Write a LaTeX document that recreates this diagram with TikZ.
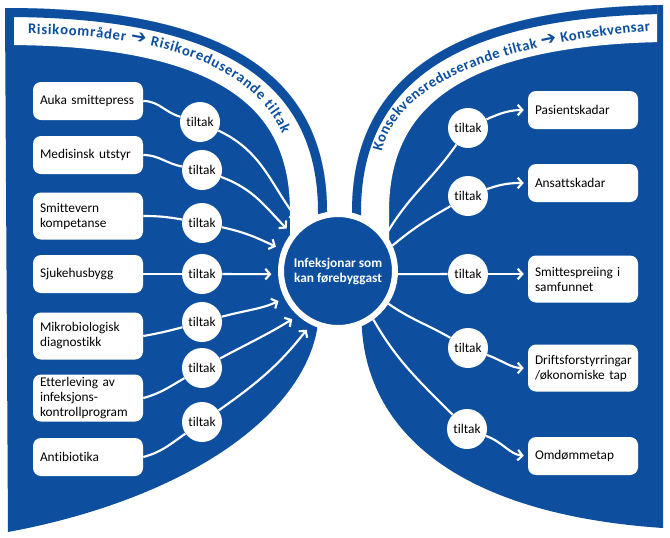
\documentclass[tikz,border=0pt]{standalone}
\usepackage{fontspec}
\setmainfont{Carlito}[Ligatures=NoCommon]
\newfontfamily\arrowfont{DejaVu Sans}
\usetikzlibrary{arrows.meta,decorations.text}
\definecolor{wingblue}{HTML}{0D4F9E}
\newcommand\headfont{\normalfont\bfseries\fontsize{11}{13}\selectfont\color{wingblue}}
\newcommand\arrowmark{\arrowfont\bfseries\fontsize{14}{14}\selectfont\color{wingblue}}
\newcommand\lwing{(5,8) .. controls (200,8) and (327,60) .. (327,212)}
\newcommand\rwing{(663,5) .. controls (480,8) and (352,60) .. (352,212)}

\begin{document}
\begin{tikzpicture}[x=0.75pt,y=-0.75pt,font=\fontsize{10}{11.25}\selectfont,
    item/.style={fill=white,rounded corners=6pt,minimum width=82.5pt,minimum height=28.5pt,
      text width=72pt,inner xsep=5.25pt,inner ysep=2pt,align=left},
    tall/.style={item,minimum height=35.25pt},
    tiltak/.style={circle,fill=white,minimum size=30pt,inner sep=0pt},
    flow/.style={white,line width=1.6pt},
    tip/.style={flow,-{Straight Barb[length=3.5pt,width=8pt]}}]
  \useasboundingbox (0,0) rectangle (670,537);
  \fill[wingblue] \lwing -- (317,330) .. controls (300,420) and (180,500) .. (8,532) -- cycle;
  \fill[wingblue] \rwing -- (362,330) .. controls (370,440) and (470,515) .. (663,528) -- cycle;
  \begin{scope}
    \clip \lwing -- (317,330) .. controls (300,420) and (180,500) .. (8,532) -- cycle;
    \clip (14,0) rectangle (340,300);
    \draw[white,line width=55.5pt] \lwing -- (327,260);
    \draw[wingblue,line width=13.5pt] \lwing -- (327,260);
  \end{scope}
  \begin{scope}
    \clip \rwing -- (362,330) .. controls (370,440) and (470,515) .. (663,528) -- cycle;
    \clip (330,0) rectangle (657,300);
    \draw[white,line width=55.5pt] \rwing -- (352,260);
    \draw[wingblue,line width=13.5pt] \rwing -- (352,260);
  \end{scope}
  \path[decorate,decoration={text along path,text align=fit to path,
    text={|\headfont|Risikoområder |\arrowmark|➔|\headfont| Risikoreduserande tiltak}}]
    (28,34) .. controls (150,34) and (252,62) .. (282,134);
  \path[decorate,decoration={text along path,text align=fit to path,
    text={|\headfont|Konsekvensreduserande tiltak |\arrowmark|➔|\headfont| Konsekvensar}}]
    (382,152) .. controls (395,90) and (485,45) .. (650,31);

  \node[circle,fill=wingblue,draw=white,line width=4.5pt,minimum size=85.5pt,text=white,
    font=\bfseries\fontsize{10}{11.25}\selectfont,align=center] (inf) at (338,271) {Infeksjonar som\\kan førebyggast};

  \node[item] (l1) at (88,101) {Auka smittepress};
  \node[item] (l2) at (88,155) {Medisinsk utstyr};
  \node[tall] (l3) at (88,216) {Smittevern\\kompetanse};
  \node[item] (l4) at (88,274) {Sjukehusbygg};
  \node[tall] (l5) at (88,336) {Mikrobiologisk\\diagnostikk};
  \node[tall] (l6) at (88,398) {Etterleving av\\infeksjons-\\kontrollprogram};
  \node[item] (l7) at (88,457) {Antibiotika};
  \node[tiltak] (tl1) at (200,122) {tiltak};
  \node[tiltak] (tl2) at (202,170) {tiltak};
  \node[tiltak] (tl3) at (202,223) {tiltak};
  \node[tiltak] (tl4) at (202,274) {tiltak};
  \node[tiltak] (tl5) at (202,322) {tiltak};
  \node[tiltak] (tl6) at (202,368) {tiltak};
  \node[tiltak] (tl7) at (202,422) {tiltak};

  \node[item] (r1) at (583,110) {Pasientskadar};
  \node[item] (r2) at (583,183) {Ansattskadar};
  \node[tall] (r3) at (583,279) {Smittespreiing i\\samfunnet};
  \node[tall] (r4) at (583,368) {Driftsforstyrringar\\/økonomiske tap};
  \node[item] (r5) at (583,456) {Omdømmetap};
  \node[tiltak] (tr1) at (468,128) {tiltak};
  \node[tiltak] (tr2) at (468,196) {tiltak};
  \node[tiltak] (tr3) at (468,274) {tiltak};
  \node[tiltak] (tr4) at (468,348) {tiltak};
  \node[tiltak] (tr5) at (467,429) {tiltak};

  \draw[flow] (l1.east) to[out=0,in=165] (tl1);
  \draw[flow] (l2.east) to[out=0,in=170] (tl2);
  \draw[flow] (l3.east) to[out=0,in=170] (tl3);
  \draw[flow] (l4.east) -- (tl4);
  \draw[flow] (l5.east) to[out=10,in=-165] (tl5);
  \draw[flow] (l6.east) to[out=15,in=-150] (tl6);
  \draw[flow] (l7.east) to[out=15,in=-145] (tl7);
  \draw[tip,shorten >=5pt] (tl1) to[out=-25,in=128] (inf.128);
  \draw[tip,shorten >=5pt] (tl2) to[out=-20,in=135] (inf.141);
  \draw[tip,shorten >=5pt] (tl3) to[out=-12,in=155] (inf.159);
  \draw[tip,shorten >=5pt] (tl4) -- (inf.183);
  \draw[tip,shorten >=5pt] (tl5) to[out=15,in=-155] (inf.207);
  \draw[tip,shorten >=5pt] (tl6) to[out=28,in=-148] (inf.228);
  \draw[tip,shorten >=5pt] (tl7) to[out=35,in=-128] (inf.243);

  \draw[flow] (inf.37) to[out=60,in=-125] (tr1);
  \draw[flow] (inf.25) to[out=40,in=-150] (tr2);
  \draw[flow] (inf.-3) -- (tr3);
  \draw[flow] (inf.-33) to[out=-35,in=150] (tr4);
  \draw[flow] (inf.-54) to[out=-60,in=135] (tr5);
  \draw[tip,shorten >=3pt] (tr1) to[out=25,in=180] (r1.west);
  \draw[tip,shorten >=3pt] (tr2) to[out=20,in=180] (r2.west);
  \draw[tip,shorten >=3pt] (tr3.east) -- (tr3.east -| r3.west);
  \draw[tip,shorten >=3pt] (tr4) to[out=-20,in=180] (r4.west);
  \draw[tip,shorten >=3pt] (tr5) to[out=-20,in=175] (r5.west);
\end{tikzpicture}
\end{document}
